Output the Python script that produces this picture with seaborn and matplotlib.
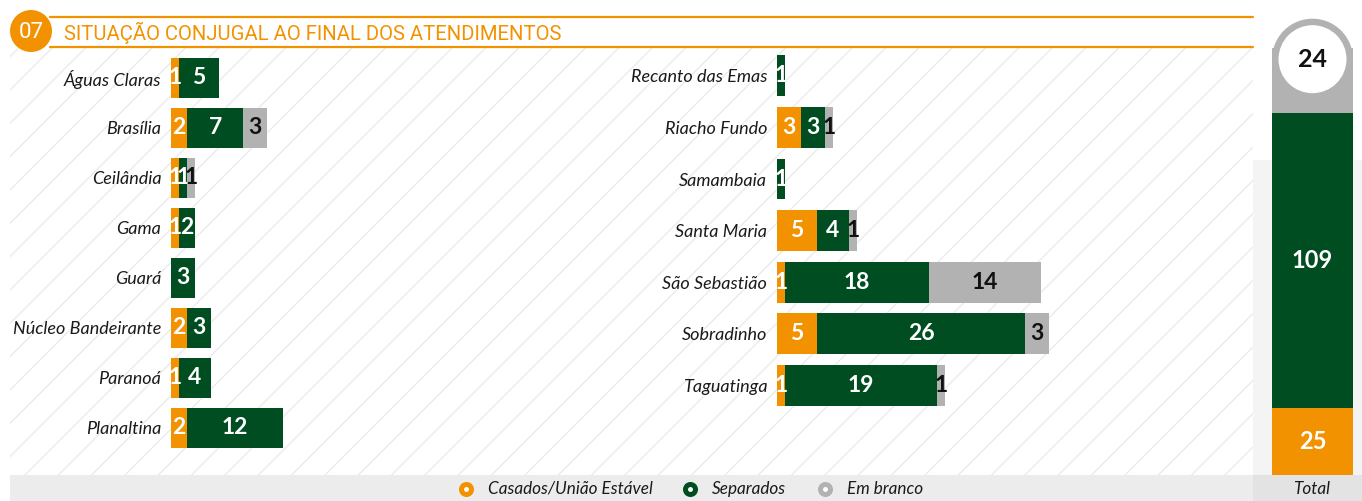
import pandas as pd
import seaborn as sns
import matplotlib.pyplot as plt
from matplotlib.patches import Rectangle, Circle

ORANGE = "#F39200"
GREEN = "#004D22"
GRAY = "#B2B2B2"

TITLE = "SITUAÇÃO CONJUGAL AO FINAL DOS ATENDIMENTOS"
SERIES = ["Casados/União Estável", "Separados", "Em branco"]

left_names = ["Águas Claras", "Brasília", "Ceilândia", "Gama", "Guará",
              "Núcleo Bandeirante", "Paranoá", "Planaltina"]
left_casados = [1, 2, 1, 1, 0, 2, 1, 2]
left_separados = [5, 7, 1, 2, 3, 3, 4, 12]
left_branco = [0, 3, 1, 0, 0, 0, 0, 0]

right_names = ["Recanto das Emas", "Riacho Fundo", "Samambaia", "Santa Maria",
               "São Sebastião", "Sobradinho", "Taguatinga"]
right_casados = [0, 3, 0, 5, 1, 5, 1]
right_separados = [1, 3, 1, 4, 18, 26, 19]
right_branco = [0, 1, 0, 1, 14, 3, 1]

sns.set_theme(style="white")
plt.rcParams["font.family"] = ["Lato", "DejaVu Sans"]
plt.rcParams["hatch.color"] = "#ebebeb"
plt.rcParams["hatch.linewidth"] = 1.0

W, H = 1362, 501
VAL_SIZE = 16.5


def stacked(ax, names, casados, separados, branco, bar_w):
    df = pd.DataFrame({"local": names, "c": casados, "s": separados, "b": branco})
    df["c1"] = df["c"]
    df["c2"] = df["c"] + df["s"]
    df["c3"] = df["c2"] + df["b"]
    for col, color in [("c3", GRAY), ("c2", GREEN), ("c1", ORANGE)]:
        sns.barplot(data=df, y="local", x=col, order=names, color=color,
                    saturation=1, width=bar_w, linewidth=0, ax=ax)
    for i, row in df.iterrows():
        start = 0
        for v, tc in [(row["c"], "white"), (row["s"], "white"), (row["b"], "#111111")]:
            if v > 0:
                ax.text(start + v / 2, i, str(v), ha="center", va="center",
                        color=tc, fontsize=VAL_SIZE, fontweight="bold")
            start += v
    ax.set_xlabel("")
    ax.set_ylabel("")
    ax.set_xticks([])
    ax.tick_params(axis="y", length=0, pad=7)
    for t in ax.get_yticklabels():
        t.set_fontstyle("italic")
        t.set_fontsize(13)
        t.set_color("#1a1a1a")
    ax.patch.set_alpha(0)
    sns.despine(ax=ax, left=True, bottom=True)


fig = plt.figure(figsize=(W / 100, H / 100), dpi=100)

# background / decorations in pixel coordinates
bg = fig.add_axes([0, 0, 1, 1])
bg.set_xlim(0, W)
bg.set_ylim(H, 0)
bg.axis("off")
bg.add_patch(Rectangle((10, 48), 1243, 427, facecolor="white",
                       edgecolor="#ebebeb", hatch="/", linewidth=0))
bg.add_patch(Rectangle((1253, 160), 109, 315, facecolor="#f4f4f4", linewidth=0))
bg.add_patch(Rectangle((10, 475), 1352, 26, facecolor="#ececec", linewidth=0))
bg.add_patch(Rectangle((1253, 475), 109, 26, facecolor="#e3e3e3", linewidth=0))
bg.plot([50, 1253], [17, 17], color=ORANGE, lw=1.6)
bg.plot([50, 1253], [47, 47], color=ORANGE, lw=1.6)
bg.add_patch(Circle((31, 31), 21, facecolor=ORANGE, linewidth=0))
bg.text(31, 32, "07", color="white", fontsize=16, family="Roboto",
        ha="center", va="center")
bg.text(64, 33, TITLE, color=ORANGE, fontsize=14.6, family="Roboto",
        ha="left", va="center")

# legend
leg_x = [466, 690, 825]
for x, name, color in zip(leg_x, SERIES, [ORANGE, GREEN, GRAY]):
    bg.plot(x, 489, "o", ms=7.2, mfc="white", mec=color, mew=3.6)
    bg.text(x + 22, 489, name, fontsize=12.3, fontstyle="italic",
            color="#1a1a1a", ha="left", va="center")
bg.text(1312, 489, "Total", fontsize=12.3, fontstyle="italic",
        color="#1a1a1a", ha="center", va="center")

# left panel: 8 px per unit, 50 px per row
axl = fig.add_axes([171 / W, 26 / H, 448 / W, 427 / H])
stacked(axl, left_names, left_casados, left_separados, left_branco, 0.8)
axl.set_xlim(0, 56)
axl.set_ylim(-0.6 + 427 / 50, -0.6)

# right panel: 8 px per unit, ~51.6 px per row
axr = fig.add_axes([777 / W, 26 / H, 472 / W, 427 / H])
stacked(axr, right_names, right_casados, right_separados, right_branco, 0.79)
axr.set_xlim(0, 59)
axr.set_ylim(-0.54 + 427 / 51.6, -0.54)

# total column
tot_c = sum(left_casados) + sum(right_casados)
tot_s = sum(left_separados) + sum(right_separados)
tot_b = sum(left_branco) + sum(right_branco)
k = 2.7  # px per unit on both axes
axt = fig.add_axes([1253 / W, 26 / H, 109 / W, 475 / H])
axt.set_xlim(-59.5 / k, 49.5 / k)
axt.set_ylim(0, 475 / k)
axt.axis("off")
bw = 81 / k
axt.bar(0, tot_c, width=bw, color=ORANGE, linewidth=0)
axt.bar(0, tot_s, bottom=tot_c, width=bw, color=GREEN, linewidth=0)
axt.bar(0, tot_b, bottom=tot_c + tot_s, width=bw, color=GRAY, linewidth=0)
cy = tot_c + tot_s + tot_b - 4
axt.add_patch(Circle((0, cy), bw / 2, facecolor=GRAY, linewidth=0))
axt.add_patch(Circle((0, cy), 34 / k, facecolor="white", linewidth=0))
axt.text(0, tot_c / 2, str(tot_c), color="white", fontsize=17,
         fontweight="bold", ha="center", va="center")
axt.text(0, tot_c + tot_s / 2, str(tot_s), color="white", fontsize=17,
         fontweight="bold", ha="center", va="center")
axt.text(0, cy, str(tot_b), color="#111111", fontsize=18,
         fontweight="bold", ha="center", va="center")

fig.savefig("out.png", dpi=100)
